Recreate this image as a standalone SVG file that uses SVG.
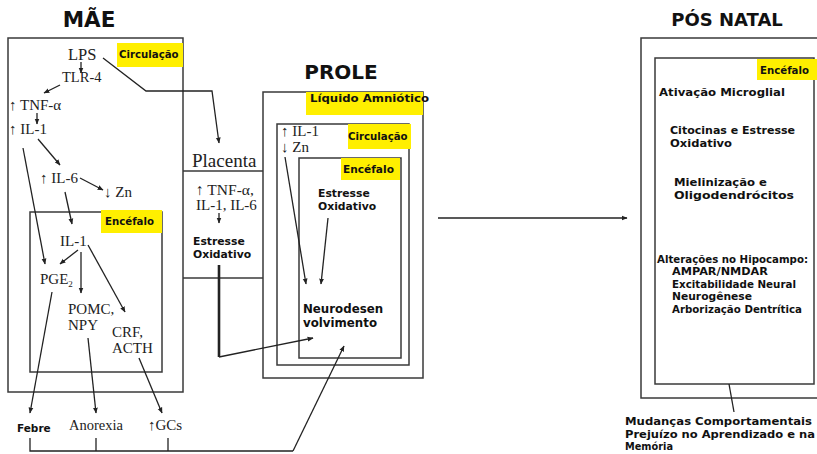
<svg xmlns="http://www.w3.org/2000/svg" width="817" height="454" viewBox="0 0 817 454">
<style>
.box{fill:none;stroke:#3a3a3a;stroke-width:1.5}
.ln{fill:none;stroke:#222;stroke-width:1.3}
.ar{fill:none;stroke:#222;stroke-width:1.3;marker-end:url(#ah)}
.yl{fill:#ffef00}
.ttl{font-family:"DejaVu Sans","Noto Sans",sans-serif;font-weight:bold;fill:#111;text-anchor:middle}
.lab{font-family:"DejaVu Sans","Noto Sans",sans-serif;font-weight:bold;font-size:10.2px;fill:#111}
.sf{font-family:"Liberation Serif","Times New Roman",serif;font-size:14.5px;fill:#222}
.bs{font-family:"DejaVu Sans","Noto Sans",sans-serif;font-weight:bold;font-size:10.8px;fill:#111}
.pn{font-family:"DejaVu Sans","Noto Sans",sans-serif;font-weight:bold;font-size:10.6px;fill:#111}
</style>
<defs>
<marker id="ah" viewBox="0 0 10 10" refX="9" refY="5" markerWidth="6" markerHeight="6" orient="auto" markerUnits="userSpaceOnUse">
<path d="M0,1 L10,5 L0,9 z" fill="#222"/>
</marker>
</defs>
<rect width="817" height="454" fill="#fff"/>

<g id="mae">
<text class="ttl" x="89" y="27" style="font-size:21.5px">MÃE</text>
<rect class="box" x="8" y="38" width="175" height="354"/>
<rect class="yl" x="117" y="43" width="66" height="24"/>
<text class="lab" x="119" y="58">Circulação</text>
<text class="sf" x="68" y="60" style="font-size:16.5px">LPS</text>
<text class="sf" x="62" y="82">TLR-4</text>
<text class="sf" x="9" y="110" style="font-size:15px">↑ TNF-α</text>
<text class="sf" x="9" y="134" style="font-size:15px">↑ IL-1</text>
<text class="sf" x="40" y="183" style="font-size:15px">↑ IL-6</text>
<text class="sf" x="104" y="197" style="font-size:15px">↓ Zn</text>
</g>

<g id="mae-encefalo">
<rect class="box" x="30" y="212" width="132" height="160"/>
<rect class="yl" x="101" y="210" width="61" height="23"/>
<text class="lab" x="105" y="225">Encéfalo</text>
<text class="sf" x="60" y="246" style="font-size:15px">IL-1</text>
<text class="sf" x="40" y="284" style="font-size:15px">PGE<tspan style="font-size:9px" dy="3">2</tspan></text>
<text class="sf" x="68" y="314" style="font-size:15px">POMC,</text>
<text class="sf" x="68" y="330" style="font-size:15px">NPY</text>
<text class="sf" x="112" y="337" style="font-size:15px">CRF,</text>
<text class="sf" x="112" y="353" style="font-size:15px">ACTH</text>
</g>

<g id="mae-saidas">
<text class="bs" x="17" y="432" style="font-size:10.5px" fill="#1a1a40">Febre</text>
<text class="sf" x="69" y="430">Anorexia</text>
<text class="sf" x="148" y="430" style="font-size:15px">↑GCs</text>
</g>

<g id="placenta">
<line class="box" x1="183" y1="171" x2="263" y2="171"/>
<line class="box" x1="183" y1="278" x2="263" y2="278"/>
<text class="sf" x="192" y="167" style="font-size:19px">Placenta</text>
<text class="sf" x="196" y="195" style="font-size:15.5px">↑ TNF-α,</text>
<text class="sf" x="196" y="210" style="font-size:15px">IL-1, IL-6</text>
<text class="bs" x="193" y="245" fill="#1a1a40">Estresse</text>
<text class="bs" x="193" y="258" fill="#1a1a40">Oxidativo</text>
</g>

<g id="prole">
<text class="ttl" x="341" y="79" style="font-size:20px">PROLE</text>
<rect class="box" x="263" y="92" width="160" height="286"/>
<rect class="yl" x="306" y="92" width="117" height="23"/>
<text class="lab" x="310" y="102" textLength="119" lengthAdjust="spacingAndGlyphs">Líquido Amniótico</text>
<rect class="box" x="277" y="124" width="132" height="241"/>
<rect class="yl" x="348" y="124" width="63" height="25"/>
<text class="lab" x="348" y="140">Circulação</text>
<text class="sf" x="281" y="136" style="font-size:15px">↑ IL-1</text>
<text class="sf" x="281" y="152" style="font-size:15px">↓ Zn</text>
<rect class="box" x="299" y="158" width="102" height="200"/>
<rect class="yl" x="341" y="158" width="59" height="22"/>
<text class="lab" x="343" y="173" style="font-size:10.6px">Encéfalo</text>
<text class="bs" x="318" y="197" fill="#1a1a40">Estresse</text>
<text class="bs" x="318" y="210" fill="#1a1a40">Oxidativo</text>
<text class="bs" x="303" y="313" style="font-size:11.8px">Neurodesen</text>
<text class="bs" x="303" y="327" style="font-size:11.8px">volvimento</text>
</g>

<g id="pos-natal">
<text class="ttl" x="727" y="26" style="font-size:18px">PÓS NATAL</text>
<rect class="box" x="641" y="38" width="200" height="360"/>
<rect class="box" x="655" y="58" width="159" height="326"/>
<rect class="yl" x="757" y="59" width="60" height="21"/>
<text class="lab" x="760" y="74">Encéfalo</text>
<text class="pn" x="659" y="96" textLength="126" lengthAdjust="spacingAndGlyphs">Ativação Microglial</text>
<text class="pn" x="670" y="134" textLength="125" lengthAdjust="spacingAndGlyphs">Citocinas e Estresse</text>
<text class="pn" x="670" y="147" textLength="62" lengthAdjust="spacingAndGlyphs">Oxidativo</text>
<text class="pn" x="674" y="186" textLength="93" lengthAdjust="spacingAndGlyphs">Mielinização e</text>
<text class="pn" x="674" y="199" textLength="120" lengthAdjust="spacingAndGlyphs">Oligodendrócitos</text>
<text class="pn" x="657" y="263" textLength="151" lengthAdjust="spacingAndGlyphs">Alterações no Hipocampo:</text>
<text class="pn" x="672" y="275" textLength="96" lengthAdjust="spacingAndGlyphs">AMPAR/NMDAR</text>
<text class="pn" x="672" y="288" textLength="124" lengthAdjust="spacingAndGlyphs">Excitabilidade Neural</text>
<text class="pn" x="672" y="300" textLength="80" lengthAdjust="spacingAndGlyphs">Neurogênese</text>
<text class="pn" x="672" y="313" textLength="130" lengthAdjust="spacingAndGlyphs">Arborização Dentrítica</text>
<text class="pn" x="625" y="425" textLength="187" lengthAdjust="spacingAndGlyphs">Mudanças Comportamentais</text>
<text class="pn" x="625" y="438" textLength="190" lengthAdjust="spacingAndGlyphs">Prejuízo no Aprendizado e na</text>
<text class="pn" x="625" y="450" textLength="48" lengthAdjust="spacingAndGlyphs">Memória</text>
</g>

<g id="connectors">
<line class="ar" x1="81" y1="62" x2="81" y2="73"/>
<line class="ar" x1="60" y1="85" x2="44" y2="93"/>
<line class="ar" x1="37" y1="113" x2="37" y2="124"/>
<line class="ar" x1="38" y1="139" x2="60" y2="165"/>
<line class="ar" x1="23" y1="148" x2="45" y2="264"/>
<line class="ar" x1="80" y1="178" x2="103" y2="190"/>
<line class="ar" x1="65" y1="192" x2="72" y2="224"/>
<line class="ar" x1="78" y1="250" x2="60" y2="264"/>
<line class="ar" x1="81" y1="252" x2="81" y2="293"/>
<line class="ar" x1="88" y1="245" x2="125" y2="312"/>
<line class="ar" x1="52" y1="292" x2="30" y2="413"/>
<line class="ar" x1="88" y1="338" x2="96" y2="413"/>
<line class="ar" x1="139" y1="358" x2="162" y2="413"/>
<polyline class="ar" points="103,58 146,91 212,91 219,143"/>
<line class="ar" x1="219" y1="213" x2="219" y2="223"/>
<polyline class="ln" points="219,265 219,357" style="stroke-width:2.6"/>
<line class="ar" x1="219" y1="357" x2="313" y2="338"/>
<line class="ar" x1="285" y1="157" x2="306" y2="284"/>
<line class="ar" x1="328" y1="218" x2="321" y2="284"/>
<polyline class="ln" points="30,438 30,451 293,451"/>
<line class="ln" x1="96" y1="438" x2="96" y2="451"/>
<line class="ln" x1="168" y1="438" x2="168" y2="451"/>
<line class="ar" x1="293" y1="451" x2="344" y2="346"/>
<line class="ar" x1="438" y1="218" x2="627" y2="218"/>
<line class="ln" x1="729" y1="384" x2="734" y2="412"/>
</g>
</svg>
